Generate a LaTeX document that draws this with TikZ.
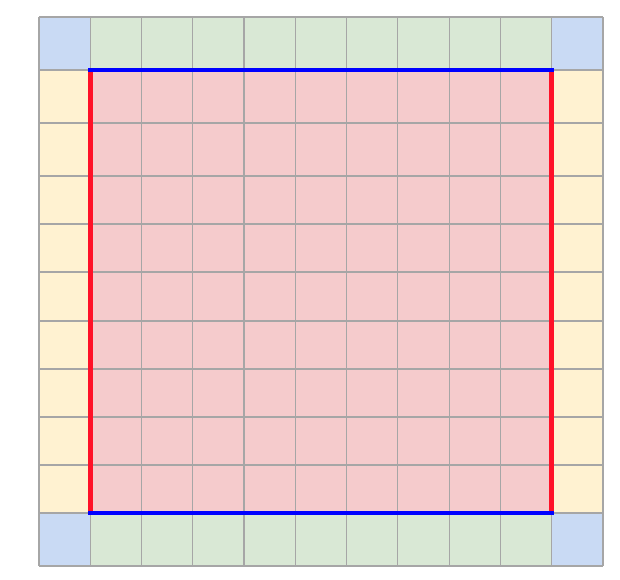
\documentclass[tikz,border=0pt]{standalone}
\definecolor{cornerblue}{HTML}{C9DAF4}
\definecolor{edgegreen}{HTML}{D9E8D5}
\definecolor{edgeyellow}{HTML}{FFF2D1}
\definecolor{innerpink}{HTML}{F5CBCC}
\definecolor{gridgray}{HTML}{A6A6A6}
\definecolor{lineblue}{HTML}{0000FF}
\definecolor{linered}{HTML}{FF1128}
\begin{document}
\begin{tikzpicture}[x=1pt,y=-1pt,
  gridline/.style={draw=gridgray,line width=1.2pt},
  bluebar/.style={draw=lineblue,line width=4.8pt},
  redbar/.style={draw=linered,line width=4.8pt}]
\useasboundingbox (0,0) rectangle (620,579);
% fills
\fill[innerpink] (90.3,70) rectangle (551.7,513);
\fill[edgegreen] (90.3,17) rectangle (551.7,70);
\fill[edgegreen] (90.3,513) rectangle (551.7,566);
\fill[edgeyellow] (39,70) rectangle (90.3,513);
\fill[edgeyellow] (551.7,70) rectangle (603,513);
\fill[cornerblue] (39,17) rectangle (90.3,70);
\fill[cornerblue] (551.7,17) rectangle (603,70);
\fill[cornerblue] (39,513) rectangle (90.3,566);
\fill[cornerblue] (551.7,513) rectangle (603,566);
% grid lines
\foreach \yy in {17,70,123,176,224,272,321,369,417,465,513,566}
  \draw[gridline] (39,\yy) -- (603,\yy);
\foreach \i in {0,...,11}
  \draw[gridline] ({39+\i*51.27},17) -- ({39+\i*51.27},566);
% thick borders
\draw[redbar] (90.5,70) -- (90.5,513);
\draw[redbar] (551.5,70) -- (551.5,513);
\draw[bluebar] (88,70) -- (554,70);
\draw[bluebar] (88,513) -- (554,513);
\end{tikzpicture}
\end{document}
